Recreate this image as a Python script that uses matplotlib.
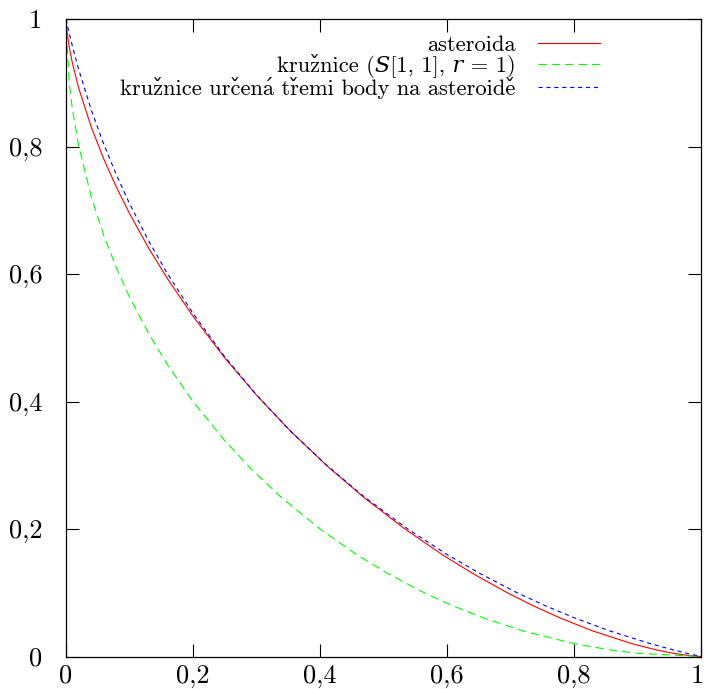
import matplotlib
matplotlib.use("Agg")
import matplotlib.pyplot as plt
import matplotlib.transforms as mtransforms
import unicodedata

plt.rcParams['font.family'] = ['cmr10', 'DejaVu Serif']
plt.rcParams['mathtext.fontset'] = 'cm'
plt.rcParams['axes.unicode_minus'] = False
plt.rcParams['lines.scale_dashes'] = False

# asteroida
ast_x = [0, 0.001, 0.005, 0.01, 0.02, 0.04, 0.06, 0.08, 0.1, 0.13, 0.16, 0.2, 0.25, 0.3,
         0.35355, 0.40996, 0.46843, 0.53375, 0.59230, 0.64091, 0.69493, 0.73487, 0.77915,
         0.82979, 0.89154, 0.93118, 0.95646, 0.98504, 1.0]
ast_y = [1.0, 0.98504, 0.95646, 0.93118, 0.89154, 0.82979, 0.77915, 0.73487, 0.69493,
         0.64091, 0.59230, 0.53375, 0.46843, 0.40996, 0.35355, 0.3, 0.25, 0.2, 0.16, 0.13,
         0.1, 0.08, 0.06, 0.04, 0.02, 0.01, 0.005, 0.001, 0]

# kružnice S[1,1], r=1
c1_x = [0, 0.005, 0.01, 0.02, 0.04, 0.06, 0.08, 0.1, 0.13, 0.16, 0.2, 0.25, 0.29289,
        0.33856, 0.4, 0.45741, 0.50695, 0.56411, 0.60808, 0.65883, 0.72, 0.80100,
        0.85893, 0.90012, 1.0]
c1_y = [1.0, 0.90012, 0.85893, 0.80100, 0.72, 0.65883, 0.60808, 0.56411, 0.50695,
        0.45741, 0.4, 0.33856, 0.29289, 0.25, 0.2, 0.16, 0.13, 0.1, 0.08, 0.06, 0.04,
        0.02, 0.01, 0.005, 0]

# kružnice určená třemi body na asteroidě
c2_x = [0, 0.005, 0.01, 0.02, 0.04, 0.06, 0.08, 0.1, 0.13, 0.16, 0.2, 0.25, 0.3, 0.35355,
        0.41040, 0.47024, 0.53823, 0.60012, 0.65218, 0.71055, 0.75399, 0.80218, 0.85676,
        0.92061, 0.95770, 0.97807, 1.0]
c2_y = [1.0, 0.97807, 0.95770, 0.92061, 0.85676, 0.80218, 0.75399, 0.71055, 0.65218,
        0.60012, 0.53823, 0.47024, 0.41040, 0.35355, 0.3, 0.25, 0.2, 0.16, 0.13, 0.1,
        0.08, 0.06, 0.04, 0.02, 0.01, 0.005, 0]

# S and r as mathematical italic letters, so no mathtext is needed
labels = ['asteroida', 'kružnice (\U0001D446[1, 1], \U0001D45F = 1)',
          'kružnice určená třemi body na asteroidě']
tick_vals = [0, 0.2, 0.4, 0.6, 0.8, 1]
tick_labels = ['0', '0,2', '0,4', '0,6', '0,8', '1']

# decomposed accents render well with cmr10 + DejaVu Serif fallback
labels_nfd = [unicodedata.normalize('NFD', t) for t in labels]

fig = plt.figure(figsize=(7.06, 6.89), dpi=100)
ax = fig.add_axes([66/706, 1-656.5/689, (701-66)/706, (656.5-19)/689])

ax.plot(ast_x, ast_y, color='#ff0000', lw=0.8, label=labels_nfd[0])
ax.plot(c1_x, c1_y, color='#00ff00', lw=0.8, dashes=(6, 3.6), label=labels_nfd[1])
ax.plot(c2_x, c2_y, color='#0000ff', lw=0.8, dashes=(3, 2.7), label=labels_nfd[2])

ax.set_xlim(0, 1)
ax.set_ylim(0, 1)
ax.set_xticks(tick_vals)
ax.set_xticklabels(tick_labels)
ax.set_yticks(tick_vals)
ax.set_yticklabels(tick_labels)
ax.tick_params(direction='in', length=9.5, width=0.8, top=True, right=True,
               labelsize=19)
ax.tick_params(axis='y', pad=17)
ax.tick_params(axis='x', pad=5.5)
for s in ax.spines.values():
    s.set_linewidth(0.9)

# keep the last x tick label inside the figure edge
last = ax.get_xticklabels()[-1]
last.set_transform(last.get_transform()
                   + mtransforms.ScaledTranslation(-4/100, 0, fig.dpi_scale_trans))

leg = ax.legend(loc='upper right', bbox_to_anchor=(0.841, 0.974), frameon=False,
                markerfirst=False, fontsize=16.2, handlelength=2.75, handletextpad=1.0,
                borderpad=0, borderaxespad=0, labelspacing=-0.05)
leg.get_texts()[1].set_family(['cmr10', 'DejaVu Serif', 'STIXGeneral'])

fig.savefig('out.png', dpi=100)
